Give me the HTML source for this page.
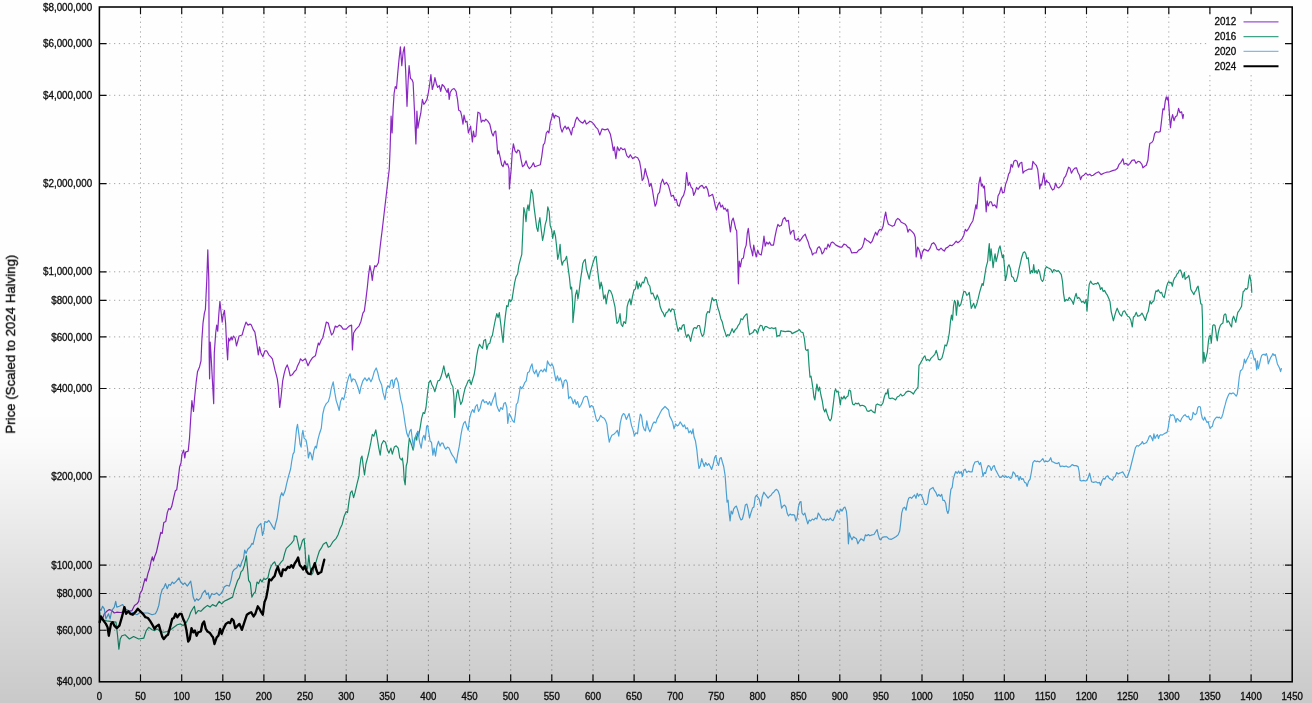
<!DOCTYPE html>
<html><head><meta charset="utf-8"><title>Price (Scaled to 2024 Halving)</title>
<style>html,body{margin:0;padding:0;background:#fff;}body{width:1312px;height:703px;overflow:hidden;position:relative;font-family:"Liberation Sans",Arial,sans-serif;}</style>
</head><body>
<svg width="1312" height="703" viewBox="0 0 1312 703" style="position:absolute;left:0;top:0">
<defs><linearGradient id="ov" x1="0" y1="0" x2="0" y2="1"><stop offset="0" stop-color="#000" stop-opacity="0"/><stop offset="0.585" stop-color="#000" stop-opacity="0"/><stop offset="0.62" stop-color="#000" stop-opacity="0.008"/><stop offset="0.68" stop-color="#000" stop-opacity="0.04"/><stop offset="0.85" stop-color="#000" stop-opacity="0.135"/><stop offset="1" stop-color="#000" stop-opacity="0.208"/></linearGradient><filter id="soft" x="-2%" y="-2%" width="104%" height="104%"><feGaussianBlur stdDeviation="0.38"/></filter></defs>
<rect x="0" y="0" width="1312" height="703" fill="#fefefe"/>
<g filter="url(#soft)">
<path d="M140.5 7.0 V681.8 M181.7 7.0 V681.8 M222.8 7.0 V681.8 M263.9 7.0 V681.8 M305.1 7.0 V681.8 M346.2 7.0 V681.8 M387.3 7.0 V681.8 M428.4 7.0 V681.8 M469.6 7.0 V681.8 M510.7 7.0 V681.8 M551.8 7.0 V681.8 M593.0 7.0 V681.8 M634.1 7.0 V681.8 M675.2 7.0 V681.8 M716.4 7.0 V681.8 M757.5 7.0 V681.8 M798.6 7.0 V681.8 M839.8 7.0 V681.8 M880.9 7.0 V681.8 M922.0 7.0 V681.8 M963.2 7.0 V681.8 M1004.3 7.0 V681.8 M1045.4 7.0 V681.8 M1086.5 7.0 V681.8 M1127.7 7.0 V681.8 M1168.8 7.0 V681.8 M1209.9 7.0 V681.8 M1251.1 7.0 V681.8 M99.4 43.6 H1292.2 M99.4 95.3 H1292.2 M99.4 183.6 H1292.2 M99.4 271.8 H1292.2 M99.4 300.3 H1292.2 M99.4 336.9 H1292.2 M99.4 388.5 H1292.2 M99.4 476.8 H1292.2 M99.4 565.1 H1292.2 M99.4 593.5 H1292.2 M99.4 630.2 H1292.2" stroke="#909090" stroke-width="1" stroke-dasharray="1.25 3.62" fill="none" opacity="0.8"/>
<rect x="1207.5" y="14" width="77" height="59" fill="#fefefe"/>
<g fill="none" stroke-linejoin="round" stroke-linecap="round">
<path d="M99.6 616.4 L100.9 619.7 L102.6 618.9 L104.3 613.8 L106.8 611.3 L109.3 609.6 L111.8 610.5 L114.3 613.0 L116.8 612.2 L120.2 612.5 L123.6 612.2 L127.8 611.3 L132.0 610.5 L134.5 605.4 L137.0 603.8 L138.7 601.3 L140.0 593.7 L142.0 590.3 L143.7 583.6 L145.0 578.6 L146.2 581.1 L147.9 573.6 L149.6 568.5 L151.3 560.1 L152.4 556.8 L153.4 561.0 L154.6 556.8 L156.3 552.6 L158.0 545.0 L159.1 540.0 L160.8 532.4 L162.2 533.4 L163.8 522.5 L165.8 521.5 L167.3 512.6 L168.7 508.6 L170.3 509.6 L171.7 506.6 L173.7 497.7 L175.3 490.8 L176.7 489.8 L178.2 478.9 L179.6 467.0 L181.0 463.0 L182.0 454.1 L183.6 450.1 L184.8 458.0 L185.6 452.1 L188.2 451.1 L189.5 438.2 L190.7 418.4 L191.9 400.6 L193.5 411.5 L194.5 398.6 L196.1 382.7 L197.5 371.8 L199.5 366.9 L201.0 360.9 L201.8 341.0 L203.0 323.1 L204.4 313.2 L205.4 309.3 L206.8 279.5 L207.8 249.8 L208.8 279.5 L209.2 356.8 L209.6 378.8 L210.2 342.0 L210.9 352.9 L213.7 403.6 L214.3 352.9 L215.7 333.0 L216.7 325.1 L217.7 331.1 L218.9 313.2 L219.9 301.3 L221.2 313.2 L222.2 322.1 L223.2 315.2 L224.4 310.3 L225.6 323.1 L226.6 344.9 L227.6 359.8 L228.6 338.0 L229.6 341.0 L231.2 337.0 L232.1 340.0 L233.5 336.0 L235.1 338.0 L236.5 345.9 L238.1 340.0 L239.1 336.0 L242.1 335.0 L244.0 328.1 L246.0 322.1 L248.0 325.1 L250.0 324.1 L251.4 325.1 L253.0 329.1 L254.9 332.1 L256.9 344.9 L258.3 354.8 L259.5 346.9 L260.9 352.9 L262.9 356.8 L264.8 350.9 L266.8 350.9 L268.8 354.8 L270.8 356.8 L272.4 358.8 L273.8 364.9 L275.2 370.9 L276.3 374.8 L277.3 378.8 L278.3 386.7 L279.7 407.5 L281.1 396.6 L282.7 380.8 L284.1 373.8 L285.7 367.9 L287.2 364.9 L288.6 368.9 L290.2 375.8 L292.2 374.8 L294.2 371.8 L296.2 369.9 L297.5 365.9 L299.5 361.9 L300.5 358.8 L302.5 360.8 L305.5 358.8 L308.0 365.7 L310.4 360.8 L312.4 357.8 L315.4 355.8 L317.4 346.9 L318.4 343.0 L319.3 344.9 L321.3 340.0 L322.7 338.0 L324.3 331.1 L326.3 322.1 L328.3 323.1 L329.8 329.1 L331.6 335.0 L333.2 333.0 L335.2 326.1 L337.2 327.1 L339.2 325.1 L341.1 326.1 L343.1 329.1 L346.1 329.1 L349.1 326.1 L351.6 325.1 L352.4 349.9 L353.6 333.0 L356.0 329.1 L359.0 326.1 L361.0 321.2 L362.9 313.2 L364.3 311.2 L365.9 299.4 L367.3 287.5 L368.5 275.6 L369.9 265.7 L371.3 272.6 L372.3 280.5 L373.4 271.6 L374.8 265.7 L376.2 266.7 L378.4 262.7 L379.8 249.8 L381.2 237.9 L382.2 230.0 L389.3 168.7 L390.1 148.9 L391.1 116.2 L392.1 133.0 L393.1 109.3 L394.1 93.4 L395.3 86.5 L396.5 88.5 L397.7 73.6 L399.0 59.7 L400.4 46.8 L401.8 65.7 L403.2 51.8 L404.4 46.8 L405.6 69.6 L407.0 106.3 L408.2 79.5 L409.1 65.7 L410.5 78.6 L411.9 79.5 L413.1 82.5 L414.5 111.2 L415.9 143.9 L416.9 111.2 L417.9 128.1 L419.5 119.2 L420.8 113.2 L422.4 99.4 L423.8 104.3 L425.4 102.3 L427.0 99.4 L428.4 92.4 L429.8 83.5 L430.9 74.6 L432.3 89.5 L433.7 84.5 L434.9 77.6 L436.3 83.5 L437.7 87.5 L439.3 85.5 L440.7 91.4 L442.2 84.5 L444.2 86.5 L445.6 89.5 L447.2 92.4 L448.2 88.5 L449.2 99.4 L450.2 92.4 L452.1 89.5 L454.1 88.5 L456.1 91.4 L457.5 99.4 L458.7 110.3 L460.5 111.2 L461.7 116.2 L463.0 124.1 L464.0 115.2 L465.6 122.1 L467.0 121.2 L468.4 133.0 L469.6 129.1 L470.6 126.1 L472.4 142.0 L473.4 131.1 L474.5 137.0 L475.9 136.0 L476.9 123.1 L477.9 112.2 L479.9 113.2 L481.3 122.1 L482.9 120.2 L484.5 121.2 L485.8 119.2 L487.8 121.2 L489.8 124.1 L491.8 133.0 L493.2 136.0 L494.4 132.1 L495.7 131.1 L496.7 141.0 L497.7 153.9 L498.7 150.9 L500.3 157.8 L501.7 164.8 L503.1 166.7 L504.7 160.8 L506.2 164.8 L507.6 163.8 L509.0 168.7 L509.4 189.0 L511.2 168.7 L512.2 152.9 L513.4 143.9 L515.0 150.9 L516.6 152.9 L517.9 149.9 L519.5 150.9 L520.9 158.8 L522.5 166.7 L524.5 164.8 L526.1 160.8 L527.5 165.7 L529.4 168.7 L531.4 166.7 L533.4 162.8 L534.8 166.7 L537.4 165.7 L540.3 164.8 L541.7 156.8 L543.3 144.9 L544.7 143.0 L546.3 133.0 L547.7 131.1 L548.9 133.0 L550.2 123.1 L551.6 118.2 L552.8 113.2 L554.2 118.2 L555.2 115.2 L557.2 116.2 L559.2 117.2 L560.5 127.1 L562.1 132.1 L563.7 128.1 L565.1 126.1 L566.7 129.1 L568.1 127.1 L569.7 130.1 L571.4 135.0 L572.6 128.1 L574.0 127.1 L575.6 120.2 L577.0 117.2 L579.0 120.2 L581.0 122.1 L582.9 123.1 L584.9 120.2 L586.3 124.1 L587.9 123.1 L589.9 121.2 L591.9 122.1 L593.8 124.1 L595.8 127.1 L597.8 129.1 L599.8 135.0 L602.0 128.9 L605.0 129.9 L607.9 128.9 L610.3 133.9 L611.9 141.8 L613.3 150.7 L614.3 146.8 L615.9 158.6 L617.4 146.8 L619.2 150.7 L620.8 147.7 L622.8 149.7 L624.8 148.7 L626.8 155.7 L628.7 157.7 L630.3 154.7 L632.7 158.6 L635.3 156.7 L637.7 157.7 L639.6 161.6 L641.0 169.5 L642.2 180.4 L643.6 178.5 L645.2 168.6 L646.6 174.5 L648.2 179.5 L649.5 186.4 L651.1 183.4 L652.5 190.4 L653.9 199.3 L655.1 206.2 L656.5 203.2 L657.9 194.3 L659.5 192.3 L661.0 183.4 L662.6 179.1 L664.4 184.4 L666.4 182.4 L668.4 185.4 L669.8 190.4 L671.3 196.3 L673.3 195.3 L674.9 200.3 L676.3 199.3 L677.7 205.2 L679.3 206.2 L680.9 200.3 L682.2 197.3 L683.6 195.3 L685.2 189.4 L686.6 172.5 L688.2 185.4 L689.6 182.4 L691.2 187.4 L692.5 188.4 L693.7 195.3 L695.1 192.3 L696.5 187.4 L698.1 189.4 L700.1 186.4 L702.1 185.4 L704.0 188.4 L706.0 186.4 L707.6 189.4 L709.0 196.3 L711.0 195.3 L712.6 194.3 L713.9 199.3 L715.3 206.2 L716.5 210.2 L717.9 205.2 L719.5 202.2 L720.9 207.2 L722.5 205.2 L723.9 209.2 L725.2 208.2 L726.8 211.2 L727.8 209.2 L729.2 223.0 L730.4 232.0 L731.8 221.1 L733.2 218.1 L734.4 223.0 L735.7 229.0 L736.7 231.0 L737.4 249.1 L738.4 283.8 L739.2 261.0 L740.4 266.9 L741.8 259.0 L743.4 258.0 L744.8 249.1 L746.2 245.1 L747.3 233.2 L748.3 228.3 L749.3 237.2 L750.3 246.1 L751.7 251.1 L752.7 256.0 L753.7 245.1 L755.1 252.1 L756.3 257.0 L757.7 250.1 L759.2 254.0 L761.2 255.0 L762.6 247.1 L764.0 236.2 L765.2 246.1 L766.6 242.1 L768.2 244.1 L769.5 242.1 L771.1 245.1 L773.5 245.1 L774.9 237.2 L776.5 229.3 L777.9 224.3 L779.5 226.3 L781.4 225.3 L783.0 219.4 L784.8 217.4 L786.4 221.3 L788.4 220.4 L789.4 228.3 L790.4 234.2 L791.9 231.2 L793.7 230.3 L794.9 239.2 L796.9 240.2 L798.3 238.2 L799.7 241.2 L801.2 239.2 L803.2 236.2 L805.2 234.2 L806.6 238.2 L808.2 242.1 L809.6 247.1 L811.2 250.1 L812.5 255.0 L814.1 253.0 L816.1 253.0 L817.5 248.1 L819.1 246.7 L820.7 249.1 L822.1 254.0 L823.6 252.1 L825.0 248.1 L826.6 249.1 L828.0 244.1 L829.6 247.1 L831.0 243.1 L832.4 242.1 L833.9 243.1 L835.9 245.1 L837.9 246.1 L839.9 247.1 L841.9 247.1 L843.9 244.1 L845.8 244.7 L847.8 247.1 L849.8 248.1 L851.8 253.0 L853.8 252.7 L856.7 252.7 L858.7 250.1 L860.7 249.1 L862.3 247.1 L863.7 243.1 L864.7 238.2 L866.6 240.2 L868.6 241.2 L870.6 243.1 L872.2 241.2 L873.6 237.2 L875.6 232.2 L877.1 235.2 L878.5 231.2 L879.9 229.3 L881.5 230.3 L883.1 226.3 L884.5 217.4 L885.7 212.0 L886.9 219.4 L888.4 224.3 L890.4 225.3 L892.4 226.3 L894.4 225.3 L896.0 220.4 L897.8 218.4 L899.3 219.4 L901.3 222.3 L903.3 223.3 L905.3 224.3 L906.7 226.3 L907.9 232.2 L909.3 229.3 L910.8 230.3 L912.6 232.2 L914.2 234.2 L915.2 237.2 L916.2 257.0 L917.6 247.1 L918.8 249.1 L920.2 253.0 L921.1 259.0 L922.5 252.1 L924.1 249.1 L926.1 250.1 L928.1 251.1 L930.1 248.1 L931.6 244.1 L933.6 242.7 L935.6 245.1 L937.0 249.1 L939.0 250.1 L941.0 248.1 L942.9 250.1 L944.3 251.1 L945.9 248.1 L947.9 247.1 L949.9 245.1 L951.9 245.7 L953.8 244.1 L956.2 241.2 L957.8 242.7 L959.8 241.2 L961.8 239.2 L963.8 235.2 L965.3 229.3 L966.7 231.2 L968.7 228.3 L970.7 224.3 L972.9 220.7 L974.3 213.8 L975.9 204.9 L976.8 208.9 L977.8 198.0 L978.8 184.1 L980.2 177.1 L981.4 186.1 L982.4 184.1 L983.4 188.0 L984.4 186.1 L985.4 199.9 L986.2 211.8 L987.1 200.9 L988.3 205.9 L989.7 201.9 L991.3 201.9 L992.7 205.9 L994.7 204.9 L996.7 207.9 L998.0 196.0 L999.6 193.0 L1001.2 187.1 L1002.6 193.0 L1004.2 192.0 L1005.6 184.1 L1007.2 180.1 L1008.6 174.2 L1009.9 172.2 L1011.1 164.3 L1012.5 167.2 L1013.9 161.3 L1015.5 160.3 L1017.1 161.3 L1018.5 167.2 L1020.0 163.3 L1021.8 162.3 L1023.0 173.2 L1024.4 171.2 L1026.4 170.2 L1028.4 169.2 L1030.4 169.2 L1031.9 169.2 L1032.9 161.3 L1034.3 163.3 L1036.3 165.3 L1037.7 169.2 L1038.7 178.1 L1039.7 189.0 L1040.7 184.1 L1041.6 185.1 L1042.8 179.1 L1043.8 173.2 L1045.2 185.1 L1046.4 180.1 L1047.6 182.1 L1049.2 183.1 L1050.8 187.1 L1052.5 190.0 L1054.1 189.0 L1055.7 183.1 L1057.1 187.1 L1058.7 188.0 L1060.7 186.1 L1062.7 183.1 L1064.0 178.1 L1065.6 176.2 L1067.0 172.2 L1068.6 167.2 L1070.0 168.2 L1071.4 173.2 L1073.0 170.2 L1074.9 168.2 L1076.5 167.8 L1077.9 172.2 L1079.5 175.2 L1080.5 179.7 L1081.9 176.2 L1083.9 175.2 L1085.8 173.2 L1087.8 175.2 L1089.8 174.2 L1091.4 175.8 L1093.2 175.2 L1095.7 173.2 L1098.7 171.8 L1101.1 174.6 L1103.7 173.2 L1106.6 172.2 L1109.6 171.8 L1112.6 170.6 L1115.6 169.8 L1117.5 168.2 L1119.1 164.3 L1120.9 162.3 L1122.9 158.7 L1124.1 164.3 L1126.1 163.3 L1128.0 165.3 L1130.0 163.3 L1132.0 160.3 L1134.4 159.9 L1136.0 163.3 L1138.0 161.3 L1139.9 161.9 L1141.9 164.3 L1142.9 167.8 L1144.7 166.2 L1146.3 165.3 L1147.9 160.3 L1148.9 150.4 L1149.8 143.5 L1151.8 142.5 L1153.2 140.5 L1154.6 133.6 L1156.2 131.6 L1158.2 132.2 L1160.2 131.6 L1161.1 124.6 L1162.1 115.7 L1162.9 108.8 L1164.1 109.8 L1165.3 100.9 L1166.3 96.9 L1167.3 99.9 L1168.1 96.9 L1168.9 106.8 L1169.7 118.7 L1170.5 127.6 L1171.4 119.7 L1172.6 114.7 L1174.0 120.7 L1175.4 116.7 L1177.0 115.7 L1178.6 108.4 L1180.0 112.7 L1181.6 111.8 L1182.9 118.7 L1183.5 114.7" stroke="#8a28c2" stroke-width="1.2"/>
<path d="M99.6 612.2 L100.4 618.9 L102.6 620.2 L106.8 620.9 L111.8 621.6 L116.0 622.2 L117.4 634.0 L118.9 649.1 L120.2 639.0 L121.9 635.7 L125.2 634.8 L129.4 639.0 L133.6 636.5 L138.7 639.0 L143.7 638.2 L146.2 630.6 L148.7 627.3 L152.1 629.8 L154.6 630.6 L157.1 628.9 L160.5 631.5 L163.8 632.3 L167.2 631.5 L170.5 629.8 L173.9 627.3 L177.3 624.7 L180.6 623.9 L183.1 625.6 L186.5 622.2 L189.0 617.2 L190.7 612.2 L193.2 608.0 L194.4 606.3 L195.7 613.8 L198.2 610.5 L200.8 611.3 L204.1 608.0 L207.5 605.4 L210.0 607.1 L212.5 604.6 L215.9 606.3 L219.2 601.3 L221.7 603.8 L224.2 601.3 L227.6 599.6 L232.6 597.1 L234.3 590.3 L236.0 585.3 L237.7 580.3 L239.4 577.8 L241.0 571.9 L242.7 570.2 L244.4 565.2 L246.4 555.9 L247.7 570.2 L248.6 580.3 L250.3 582.8 L251.9 597.1 L253.6 593.7 L255.3 592.0 L257.0 582.0 L258.6 583.6 L260.3 579.4 L262.0 582.0 L263.7 578.6 L265.4 579.4 L267.9 577.8 L269.6 570.2 L271.2 566.0 L272.9 563.5 L274.6 561.8 L276.3 566.0 L278.8 565.2 L281.3 561.8 L283.0 560.1 L284.7 553.4 L286.3 548.4 L288.9 545.9 L291.4 543.4 L293.9 540.0 L294.2 535.9 L296.6 536.3 L298.1 543.3 L299.5 550.2 L300.9 546.2 L302.5 540.3 L304.1 538.7 L305.1 550.2 L306.1 566.1 L307.5 569.0 L308.8 555.2 L310.0 566.1 L311.4 575.0 L312.8 573.0 L314.4 566.1 L316.0 562.1 L317.4 557.1 L319.3 551.2 L321.3 548.2 L323.3 544.3 L326.3 542.3 L328.3 547.2 L330.2 546.2 L333.2 541.3 L336.2 538.3 L338.2 534.4 L340.2 528.4 L342.1 524.5 L344.1 516.5 L346.1 511.6 L347.5 512.6 L349.1 500.7 L350.5 492.7 L352.0 490.8 L353.6 497.7 L355.0 492.7 L357.0 483.8 L359.0 475.9 L359.6 468.0 L361.0 458.0 L362.0 456.1 L363.5 468.0 L364.5 474.9 L365.9 464.0 L367.5 458.0 L368.9 452.1 L370.9 442.2 L372.3 434.3 L373.8 436.2 L375.8 429.9 L377.2 438.2 L378.8 448.1 L380.2 455.1 L381.6 444.2 L383.6 440.6 L385.5 442.2 L387.5 450.1 L388.9 453.1 L390.9 448.1 L392.3 454.1 L394.3 447.1 L396.2 445.8 L398.2 448.1 L399.8 458.0 L401.4 460.0 L402.4 458.0 L403.4 466.0 L404.2 479.8 L405.2 484.8 L406.2 466.0 L407.3 462.0 L408.3 448.1 L409.3 438.2 L410.7 442.2 L411.7 445.2 L413.1 450.1 L414.3 440.2 L415.7 436.2 L416.7 440.2 L417.7 431.3 L418.6 436.2 L420.2 427.3 L421.6 418.4 L423.2 412.5 L424.6 413.5 L426.0 407.5 L427.6 392.7 L428.9 382.7 L430.5 380.4 L431.9 384.7 L433.5 387.7 L434.9 391.7 L436.5 385.7 L437.9 380.8 L439.5 380.4 L441.0 376.8 L442.4 371.8 L443.8 365.9 L445.4 373.8 L446.8 377.8 L448.4 373.2 L449.8 378.8 L451.3 383.7 L452.9 386.7 L453.9 396.6 L454.7 417.4 L455.7 401.6 L456.9 392.7 L457.9 389.7 L459.3 397.6 L460.7 404.5 L462.2 401.6 L463.6 394.6 L465.2 387.7 L466.6 384.7 L468.2 380.8 L469.6 379.8 L471.2 384.7 L472.5 379.8 L474.1 374.8 L475.4 367.1 L476.5 357.2 L477.9 349.3 L479.5 344.3 L480.9 346.3 L482.5 348.3 L483.9 340.4 L485.5 339.4 L486.8 349.3 L488.2 344.3 L489.8 343.3 L491.2 337.4 L492.4 335.4 L493.8 327.5 L495.2 320.5 L496.8 313.6 L498.1 317.6 L499.3 312.6 L500.7 323.5 L502.1 335.4 L503.1 342.3 L504.1 327.5 L505.3 316.6 L506.7 305.7 L508.0 306.7 L509.2 299.7 L510.6 301.7 L512.0 299.7 L513.2 291.8 L514.6 282.9 L516.0 276.9 L517.6 274.0 L518.9 265.2 L520.4 259.3 L521.8 254.3 L522.8 231.5 L523.8 207.7 L525.0 212.7 L526.0 221.6 L527.0 209.7 L528.0 204.8 L529.0 210.7 L530.4 197.8 L531.3 189.5 L532.7 193.9 L533.9 205.8 L535.3 216.7 L536.7 227.6 L537.9 231.5 L538.9 222.6 L539.9 217.7 L541.2 229.5 L542.6 240.4 L543.8 234.5 L545.2 224.6 L546.6 219.6 L547.8 206.8 L549.2 211.7 L550.2 225.6 L551.6 229.5 L552.7 238.5 L554.1 230.5 L555.5 236.5 L556.7 247.4 L557.7 259.3 L559.1 253.3 L560.1 244.4 L561.1 259.3 L562.1 265.2 L563.4 261.2 L565.0 260.3 L566.6 256.3 L568.0 267.2 L569.4 277.1 L570.6 289.0 L571.6 287.0 L572.6 302.9 L572.9 322.5 L574.5 306.8 L575.5 294.9 L576.9 290.0 L577.9 298.9 L578.9 293.0 L580.3 281.1 L581.5 273.1 L582.9 263.2 L584.3 260.3 L585.2 259.3 L586.4 269.2 L587.8 274.1 L589.2 279.1 L590.4 272.1 L591.8 267.2 L593.2 262.2 L594.8 257.3 L596.1 256.3 L597.3 267.2 L598.7 279.1 L599.9 289.0 L601.1 282.1 L602.3 287.0 L603.7 298.9 L605.1 294.9 L606.2 303.9 L607.6 294.9 L609.0 290.0 L610.6 291.0 L612.2 294.9 L613.6 300.9 L615.0 306.8 L615.9 315.6 L617.0 323.5 L618.6 321.5 L620.0 313.6 L621.2 324.5 L622.6 326.5 L624.0 321.5 L625.6 323.5 L626.6 315.6 L627.1 306.8 L628.4 301.9 L629.8 298.9 L631.0 304.8 L632.4 296.9 L634.0 290.0 L635.4 289.0 L636.8 281.1 L638.0 289.0 L639.3 283.0 L640.7 287.0 L642.3 282.1 L643.7 283.0 L645.3 277.1 L646.7 278.1 L648.3 284.0 L649.8 286.0 L651.2 293.9 L652.8 293.0 L654.2 296.9 L655.8 299.9 L657.2 294.9 L658.8 298.9 L660.2 306.8 L661.7 310.8 L663.1 312.8 L664.7 316.7 L666.1 312.8 L667.7 311.8 L669.1 308.8 L670.7 311.8 L672.0 308.8 L674.0 309.8 L675.5 318.6 L676.7 324.5 L678.1 331.4 L679.7 327.5 L681.1 329.5 L682.4 325.5 L684.0 324.5 L685.4 333.4 L686.6 337.4 L688.0 334.4 L689.4 336.4 L690.6 341.3 L692.0 334.4 L693.5 328.5 L694.9 327.5 L696.5 328.5 L697.9 325.5 L699.5 325.5 L700.9 332.4 L702.3 336.4 L703.8 334.4 L705.2 325.5 L706.4 314.6 L707.8 311.6 L709.4 312.6 L710.8 304.7 L712.2 297.7 L713.8 300.7 L715.1 299.7 L716.2 299.5 L717.8 307.8 L719.2 311.8 L720.8 318.7 L722.2 321.7 L723.8 328.6 L725.2 332.6 L726.4 336.6 L727.7 334.6 L729.3 335.6 L730.7 332.6 L732.1 328.6 L733.7 332.6 L735.3 329.6 L736.7 328.6 L738.0 325.7 L739.6 323.7 L741.0 318.7 L742.6 319.7 L744.0 316.8 L745.6 314.8 L747.0 313.8 L748.2 326.7 L749.5 334.6 L751.1 333.6 L752.9 332.6 L754.5 329.6 L756.1 330.6 L757.5 333.6 L758.9 328.6 L760.4 325.3 L762.0 325.7 L763.4 330.6 L765.0 326.7 L766.8 326.7 L768.4 327.7 L770.0 328.6 L771.7 327.7 L773.7 328.6 L775.7 327.7 L776.9 336.6 L778.3 335.6 L779.7 336.0 L780.9 330.6 L782.8 331.2 L785.2 331.6 L788.2 331.2 L790.8 331.6 L792.1 333.6 L794.1 332.6 L796.1 331.6 L798.1 330.6 L799.5 329.6 L801.1 332.0 L803.0 332.6 L804.4 338.6 L805.6 349.5 L807.0 350.4 L808.0 349.5 L809.0 365.3 L810.0 377.2 L811.0 376.2 L812.0 382.1 L813.0 389.1 L813.9 397.0 L814.9 400.0 L815.9 391.1 L816.9 384.1 L818.3 391.1 L819.5 387.1 L820.9 395.0 L822.3 401.0 L823.5 408.9 L824.8 411.9 L825.8 408.9 L827.2 413.9 L828.8 418.8 L830.2 420.8 L831.4 418.8 L832.4 410.9 L833.4 403.0 L834.8 391.1 L835.7 389.1 L836.7 392.1 L838.1 391.1 L839.3 398.0 L840.3 404.9 L841.3 397.0 L842.7 399.0 L844.1 396.0 L845.3 399.0 L846.6 397.0 L848.0 396.0 L849.0 390.1 L850.6 391.1 L851.6 399.0 L852.6 403.9 L854.2 404.9 L855.6 403.0 L857.1 403.9 L858.5 403.0 L860.1 405.9 L862.1 405.3 L864.1 405.9 L865.5 406.9 L867.1 410.9 L869.0 411.3 L871.0 409.9 L873.0 411.9 L875.0 412.9 L876.0 404.9 L877.4 403.9 L879.3 404.9 L881.3 405.3 L882.9 403.0 L884.3 397.0 L885.7 393.0 L886.9 394.0 L887.9 389.1 L888.9 398.0 L890.2 398.6 L892.2 398.0 L894.2 399.0 L895.6 400.0 L897.2 397.0 L899.2 396.0 L900.7 394.0 L902.1 396.0 L904.1 395.0 L906.1 392.1 L908.1 391.1 L910.1 391.5 L912.0 392.7 L913.4 394.0 L915.0 391.1 L916.6 389.1 L918.0 387.1 L919.0 365.3 L920.4 363.3 L922.0 360.4 L923.5 357.4 L924.9 355.8 L926.3 360.4 L927.9 359.4 L929.5 360.9 L930.9 358.4 L932.9 356.4 L934.8 354.4 L936.2 350.4 L937.4 354.4 L938.4 359.4 L940.2 359.8 L942.0 357.8 L943.6 351.9 L945.0 344.9 L946.5 345.9 L947.9 341.0 L949.3 333.0 L950.5 321.2 L951.5 315.2 L952.5 320.2 L953.5 306.3 L954.5 300.4 L955.5 302.3 L956.4 315.2 L957.8 300.4 L959.2 306.3 L960.8 304.3 L962.2 298.4 L963.8 291.4 L965.4 291.8 L966.8 295.4 L968.1 294.4 L969.3 292.4 L970.3 301.3 L971.3 308.3 L972.7 305.3 L973.7 303.3 L975.1 308.3 L976.7 304.3 L978.0 299.4 L979.6 292.4 L981.0 287.5 L982.2 283.5 L983.2 285.5 L984.6 276.6 L986.0 267.7 L987.6 261.7 L988.6 249.8 L989.3 243.5 L990.1 260.7 L991.1 248.8 L992.1 257.7 L993.1 267.7 L994.1 259.7 L995.1 253.8 L996.1 261.7 L997.5 255.8 L998.9 248.8 L1000.0 245.9 L1001.4 252.8 L1002.4 257.7 L1003.4 254.8 L1004.4 265.7 L1005.4 280.5 L1006.8 274.6 L1007.8 266.7 L1009.0 264.7 L1010.4 268.6 L1011.7 276.6 L1013.3 277.6 L1014.7 281.5 L1016.3 281.1 L1017.7 276.6 L1018.9 269.6 L1020.3 263.7 L1021.6 257.7 L1023.2 252.8 L1024.6 251.8 L1025.8 253.8 L1026.8 258.7 L1028.2 257.7 L1029.2 265.7 L1030.2 273.6 L1031.6 270.6 L1032.7 272.6 L1033.7 264.7 L1034.7 272.6 L1036.1 270.6 L1037.1 273.6 L1038.5 269.6 L1039.7 272.6 L1041.1 279.5 L1042.5 281.5 L1043.6 279.5 L1045.0 269.6 L1046.4 266.7 L1048.0 267.7 L1049.6 268.6 L1051.0 269.6 L1052.4 272.6 L1053.9 269.6 L1055.5 270.6 L1056.9 271.6 L1058.3 270.6 L1059.9 272.6 L1061.3 274.6 L1062.5 281.5 L1063.5 293.4 L1064.8 301.3 L1066.2 299.4 L1067.8 300.4 L1069.2 297.4 L1070.8 299.4 L1072.2 301.3 L1073.4 304.3 L1074.8 297.4 L1076.1 293.4 L1077.3 298.4 L1078.7 297.4 L1080.3 299.4 L1081.7 302.3 L1083.1 301.3 L1084.7 303.3 L1086.1 299.4 L1087.0 311.2 L1088.2 295.4 L1089.2 284.5 L1090.6 281.1 L1092.0 283.5 L1093.6 284.5 L1095.2 283.5 L1096.6 283.9 L1097.9 282.5 L1099.5 285.5 L1100.5 289.5 L1101.9 287.5 L1103.1 291.4 L1104.5 290.4 L1106.1 293.4 L1107.5 295.4 L1108.8 298.4 L1110.0 301.6 L1111.2 311.6 L1112.3 316.2 L1113.4 320.8 L1114.6 316.2 L1115.9 311.6 L1117.2 308.2 L1118.5 311.6 L1120.0 314.7 L1121.5 316.2 L1123.1 311.6 L1124.6 310.8 L1126.2 313.9 L1127.7 316.2 L1129.2 317.0 L1130.8 320.1 L1132.3 327.0 L1133.4 317.0 L1134.6 316.2 L1136.2 312.4 L1137.7 316.2 L1139.3 315.9 L1140.8 314.7 L1142.0 313.1 L1143.6 316.2 L1145.4 320.5 L1147.0 313.9 L1148.2 311.6 L1149.3 305.4 L1150.0 300.8 L1151.3 303.9 L1152.3 302.3 L1153.9 300.8 L1155.0 294.6 L1155.9 290.8 L1157.0 291.6 L1158.2 289.7 L1159.3 291.6 L1160.5 293.1 L1161.6 292.3 L1162.8 296.2 L1164.2 297.7 L1165.4 292.3 L1166.7 286.2 L1167.7 283.1 L1168.8 281.6 L1170.0 283.1 L1171.1 282.3 L1172.4 286.2 L1173.4 280.8 L1174.7 277.7 L1175.7 276.9 L1177.0 273.9 L1178.1 273.1 L1179.3 270.3 L1180.5 270.0 L1181.6 273.1 L1182.7 277.7 L1183.6 275.4 L1184.4 272.3 L1185.1 279.3 L1186.5 277.7 L1187.8 276.9 L1188.8 275.4 L1189.8 280.8 L1190.8 289.3 L1192.1 291.6 L1193.1 293.1 L1193.9 294.6 L1195.0 291.6 L1195.9 290.8 L1197.0 287.7 L1198.1 286.2 L1199.0 291.6 L1200.1 299.3 L1200.8 303.9 L1201.9 304.2 L1202.5 319.3 L1203.0 363.1 L1203.9 352.3 L1205.1 361.6 L1206.2 356.9 L1207.3 352.3 L1208.5 340.8 L1209.3 336.2 L1210.4 335.4 L1211.3 343.1 L1212.1 333.9 L1212.8 325.4 L1213.9 324.7 L1215.0 325.4 L1215.9 331.6 L1216.7 337.8 L1217.3 340.8 L1218.2 333.1 L1219.3 328.5 L1220.4 325.4 L1221.6 323.9 L1222.9 323.1 L1223.9 315.4 L1225.2 313.9 L1225.9 314.7 L1227.0 322.4 L1228.1 320.8 L1229.3 322.4 L1230.6 325.4 L1231.6 327.0 L1232.4 319.3 L1233.6 316.2 L1234.7 319.3 L1235.8 322.4 L1236.7 317.7 L1237.8 312.4 L1239.0 310.8 L1240.4 308.5 L1241.6 306.2 L1242.4 297.7 L1243.2 291.6 L1244.4 290.8 L1245.5 288.5 L1246.7 289.3 L1247.8 287.7 L1248.6 280.8 L1249.6 274.9 L1250.6 279.3 L1251.3 284.6 L1251.8 292.3" stroke="#15906d" stroke-width="1.18"/>
<path d="M99.6 608.8 L100.9 610.5 L102.6 606.3 L104.3 608.8 L105.9 618.9 L108.5 613.8 L110.1 618.9 L111.8 610.5 L114.3 607.1 L115.7 601.3 L116.8 607.1 L119.4 606.3 L122.7 604.6 L125.2 608.8 L128.6 610.5 L132.0 612.2 L134.5 613.8 L137.0 614.7 L140.3 612.2 L143.7 613.0 L147.9 613.0 L152.1 614.7 L155.4 613.8 L157.1 610.5 L158.8 605.4 L160.5 595.4 L162.2 589.5 L163.8 587.8 L165.5 583.6 L167.2 588.7 L168.9 584.5 L170.5 585.3 L172.2 582.0 L173.9 583.6 L176.4 581.1 L178.9 577.8 L180.6 582.0 L183.1 584.5 L184.8 582.8 L187.3 586.1 L189.0 583.6 L190.7 581.1 L192.0 588.7 L193.2 597.1 L194.9 601.3 L196.6 598.7 L198.2 600.4 L200.8 597.9 L202.4 593.7 L205.0 590.3 L206.6 594.5 L208.3 592.9 L209.5 598.7 L211.7 593.7 L214.2 594.5 L216.7 592.9 L219.2 595.4 L220.9 593.7 L222.6 591.2 L224.2 587.0 L226.8 585.3 L229.3 586.1 L231.0 580.3 L232.6 571.9 L234.3 569.4 L236.8 567.7 L238.5 564.3 L240.2 566.8 L241.9 561.8 L243.5 558.5 L244.7 550.1 L246.1 553.4 L247.7 549.2 L250.3 546.7 L251.9 543.4 L253.0 544.3 L254.9 536.3 L256.9 528.4 L258.9 525.4 L260.9 523.5 L262.5 535.4 L263.9 530.4 L264.8 521.5 L266.8 522.5 L268.8 520.5 L270.8 523.5 L272.4 526.4 L274.4 529.4 L275.7 523.5 L277.1 518.5 L278.7 507.6 L280.3 496.7 L281.7 492.7 L283.1 495.7 L285.1 490.8 L286.6 483.8 L288.6 475.9 L290.6 469.0 L291.6 462.0 L293.0 454.1 L294.2 452.1 L295.6 438.2 L296.6 428.3 L297.5 424.4 L298.9 434.3 L300.1 444.2 L301.1 447.1 L302.1 434.3 L302.9 430.3 L304.1 438.2 L306.1 440.2 L307.5 448.1 L308.4 458.0 L309.8 452.1 L311.0 454.1 L312.4 460.0 L314.0 450.1 L315.4 446.2 L316.4 448.1 L317.8 440.2 L319.3 434.3 L321.3 428.3 L322.7 414.5 L324.3 407.5 L326.3 403.6 L328.3 401.6 L329.8 396.6 L331.2 388.7 L333.2 381.8 L334.8 392.7 L336.2 400.6 L337.8 405.5 L339.2 410.5 L340.5 401.6 L342.1 397.6 L343.7 399.6 L345.1 393.6 L347.1 382.7 L348.7 376.8 L350.1 373.8 L351.6 381.8 L353.0 378.8 L355.0 379.8 L357.0 384.7 L358.4 388.7 L359.6 393.6 L361.0 386.7 L362.9 380.8 L364.9 377.8 L366.9 380.8 L368.9 377.8 L370.9 381.8 L372.3 378.8 L374.2 371.8 L376.2 367.9 L377.8 372.8 L379.4 379.8 L381.6 384.7 L383.0 392.7 L385.0 399.6 L386.5 388.7 L387.9 385.7 L389.5 387.7 L390.9 380.8 L392.3 379.8 L393.5 387.7 L394.9 379.8 L396.4 377.8 L398.2 382.7 L399.4 391.7 L400.8 399.6 L402.2 404.5 L403.8 414.5 L405.4 425.4 L406.8 433.3 L408.3 437.2 L409.7 431.3 L411.1 429.3 L412.3 439.2 L413.7 448.1 L415.3 437.2 L416.7 433.3 L418.0 431.3 L419.6 442.2 L421.2 448.1 L422.6 438.2 L424.0 435.3 L425.2 440.2 L426.6 426.3 L427.6 425.4 L428.9 433.3 L430.1 441.2 L431.5 442.2 L432.9 455.1 L434.1 448.1 L435.5 456.1 L436.9 446.2 L438.5 441.2 L440.0 446.2 L441.4 443.2 L443.0 443.2 L444.4 447.1 L445.8 449.1 L447.4 447.1 L449.0 448.1 L450.7 452.1 L452.3 455.1 L454.3 458.0 L456.3 463.0 L457.7 454.1 L459.3 446.2 L460.9 435.3 L462.2 428.3 L463.6 423.4 L465.2 421.4 L466.6 426.3 L468.2 430.3 L469.6 418.4 L471.2 412.5 L472.7 409.5 L474.1 412.5 L475.5 406.5 L477.1 404.5 L478.5 411.5 L480.1 408.5 L481.7 401.6 L483.0 399.6 L484.6 402.6 L486.4 401.6 L488.0 404.5 L489.6 401.6 L491.0 405.5 L492.6 400.6 L494.3 396.6 L495.3 392.7 L496.5 404.5 L497.9 408.5 L499.3 411.5 L500.9 407.5 L502.5 409.5 L503.9 403.6 L505.4 402.6 L506.8 407.5 L507.8 423.4 L509.2 413.5 L510.8 416.4 L512.4 420.4 L514.2 422.4 L515.4 414.5 L516.3 404.5 L517.7 402.6 L519.1 394.6 L520.3 386.7 L521.7 388.7 L523.1 386.7 L524.7 382.7 L526.2 380.8 L527.6 372.8 L529.2 371.8 L530.6 366.9 L532.0 363.9 L533.2 370.9 L534.6 373.8 L536.2 369.9 L537.9 376.8 L539.5 371.8 L541.1 369.9 L542.9 371.8 L544.5 368.9 L546.1 371.8 L547.5 360.9 L548.8 363.9 L550.4 365.9 L552.0 363.9 L553.4 366.9 L554.8 374.8 L556.0 380.8 L557.4 375.8 L558.9 380.8 L560.3 377.8 L561.7 381.8 L562.9 387.7 L564.3 380.8 L565.9 379.8 L567.3 382.7 L568.7 398.6 L570.2 396.6 L571.8 398.6 L573.2 403.6 L574.8 399.6 L576.2 404.5 L577.6 401.6 L579.2 407.5 L580.7 405.5 L582.1 402.6 L583.7 397.6 L585.5 396.2 L587.1 396.6 L588.5 401.6 L589.7 407.5 L591.4 405.5 L593.0 406.5 L594.4 411.5 L596.0 418.4 L597.4 421.4 L599.0 419.4 L600.6 415.4 L602.3 417.4 L603.9 418.0 L605.5 420.4 L606.9 424.4 L607.9 433.3 L609.3 442.2 L610.5 438.2 L611.9 435.3 L613.8 434.3 L615.8 432.3 L617.4 430.3 L618.8 436.2 L620.2 423.4 L621.8 416.4 L623.4 413.5 L624.7 414.5 L626.3 419.4 L627.7 416.4 L629.1 413.5 L631.6 425.9 L633.0 429.8 L634.4 435.8 L635.9 432.8 L637.5 433.8 L638.9 422.9 L640.3 414.0 L641.5 415.9 L642.9 425.9 L644.3 429.8 L645.5 430.8 L646.8 420.9 L648.2 427.8 L649.8 431.8 L651.2 428.8 L652.8 423.9 L654.2 421.9 L655.8 422.9 L657.1 418.9 L658.7 415.9 L660.1 413.0 L661.7 410.0 L665.0 406.5 L668.6 410.0 L669.6 415.9 L671.2 418.9 L672.6 421.9 L674.0 428.8 L675.6 423.9 L677.2 425.9 L678.6 424.9 L680.1 421.9 L681.5 423.9 L683.1 426.8 L684.5 424.9 L685.9 428.8 L687.5 427.8 L688.9 432.8 L690.4 430.8 L691.8 433.8 L693.0 428.8 L694.0 436.8 L695.4 440.7 L696.8 449.6 L697.8 459.5 L699.0 468.5 L700.4 465.5 L701.7 458.6 L702.9 462.5 L704.3 466.5 L705.7 462.5 L707.3 465.5 L708.7 463.5 L710.3 466.5 L711.6 469.5 L713.2 464.5 L714.6 457.6 L715.8 455.6 L717.2 462.5 L718.6 465.5 L719.8 458.6 L721.2 457.6 L722.5 462.5 L723.7 466.5 L725.1 475.4 L726.1 489.3 L727.1 502.1 L728.1 500.2 L729.1 513.0 L730.1 521.0 L731.1 511.1 L732.5 514.0 L733.6 509.1 L735.0 507.1 L736.4 506.1 L738.0 511.1 L739.6 517.0 L741.0 520.0 L742.4 519.0 L743.9 513.0 L745.3 505.1 L746.9 504.1 L748.3 510.1 L749.5 518.0 L750.9 513.0 L752.5 508.1 L753.9 507.1 L755.2 497.2 L756.4 495.2 L757.8 497.2 L759.2 499.2 L760.8 506.1 L762.2 497.2 L763.8 492.2 L765.2 494.2 L766.7 496.2 L768.1 498.2 L769.7 496.2 L771.1 495.2 L772.3 493.2 L773.7 492.2 L775.1 490.3 L776.6 489.3 L778.2 491.2 L779.6 495.2 L780.6 502.1 L781.6 508.1 L783.0 506.1 L784.6 505.1 L786.0 507.1 L787.1 513.0 L788.5 516.0 L790.1 514.0 L791.5 515.0 L792.9 514.6 L794.5 515.0 L795.9 521.0 L797.1 518.0 L798.4 507.1 L799.8 502.1 L801.0 501.6 L802.0 513.0 L803.4 515.0 L804.8 513.0 L806.4 519.0 L807.8 523.9 L809.3 520.0 L810.7 521.0 L812.3 519.0 L813.9 520.0 L815.3 518.0 L816.9 519.0 L818.3 513.0 L819.6 515.0 L821.2 518.0 L822.8 520.0 L824.2 519.0 L825.8 520.6 L827.2 519.0 L828.8 520.0 L830.2 518.0 L831.7 520.0 L833.1 520.6 L834.7 517.0 L836.1 512.1 L837.5 510.1 L839.1 513.0 L840.7 509.1 L842.0 511.1 L843.6 508.1 L845.0 507.1 L846.4 511.1 L847.4 521.0 L848.4 543.8 L849.4 532.9 L850.6 536.8 L852.0 539.8 L853.5 536.8 L854.9 537.8 L856.5 538.8 L857.9 543.8 L859.5 540.8 L860.9 538.8 L862.5 539.8 L863.8 540.8 L865.4 534.8 L866.8 535.8 L868.4 534.5 L869.8 535.8 L872.0 534.9 L874.0 534.5 L875.5 532.0 L877.1 529.6 L878.3 534.9 L879.5 538.9 L880.9 539.9 L882.3 537.3 L884.3 536.9 L886.8 536.9 L888.8 538.9 L891.4 539.3 L893.8 537.9 L896.2 536.5 L898.1 534.9 L899.7 531.0 L900.7 523.0 L901.7 513.1 L903.1 508.2 L904.7 507.2 L906.1 510.2 L907.3 503.2 L908.6 498.3 L910.2 497.3 L911.6 498.3 L913.2 496.3 L914.6 494.9 L916.0 498.3 L917.2 493.3 L918.6 496.3 L919.9 494.3 L921.5 495.3 L923.1 499.3 L924.5 504.2 L926.1 504.8 L927.5 503.2 L928.5 495.3 L929.8 489.4 L931.4 488.4 L933.0 487.4 L934.4 490.4 L935.8 492.3 L937.4 496.3 L938.8 494.3 L940.4 496.3 L941.7 494.3 L942.9 500.3 L944.3 500.3 L945.7 503.2 L946.7 510.2 L947.9 513.5 L948.9 510.2 L949.9 497.3 L950.9 489.4 L952.2 487.4 L953.2 479.5 L954.6 474.5 L955.8 471.5 L957.2 473.5 L958.6 471.1 L959.8 473.5 L961.2 471.5 L962.5 476.5 L963.7 470.5 L965.1 469.1 L966.7 472.5 L968.5 471.1 L970.1 471.9 L972.1 471.9 L973.4 465.6 L975.0 462.0 L976.6 461.6 L978.0 461.2 L979.4 464.6 L980.6 462.6 L982.0 469.5 L983.0 476.5 L984.3 472.5 L985.5 473.5 L986.9 468.6 L988.3 465.6 L989.9 466.6 L991.3 470.5 L992.9 466.6 L994.3 465.6 L995.4 469.5 L996.8 471.9 L998.4 475.1 L999.8 477.5 L1001.4 477.1 L1002.8 475.5 L1004.4 477.5 L1005.7 475.9 L1007.1 477.5 L1008.7 476.5 L1010.3 478.5 L1011.7 477.5 L1013.1 471.9 L1014.7 473.5 L1016.1 476.5 L1017.6 475.5 L1019.0 480.4 L1020.2 476.5 L1021.6 479.5 L1023.0 478.5 L1024.6 482.4 L1026.0 483.0 L1027.1 486.4 L1028.5 481.4 L1030.1 479.1 L1031.5 471.5 L1032.9 462.6 L1034.5 460.6 L1036.1 461.6 L1037.9 461.2 L1039.4 462.0 L1041.0 460.6 L1042.8 458.6 L1044.4 462.0 L1046.0 461.2 L1047.8 461.6 L1049.3 460.6 L1050.7 457.7 L1051.9 461.6 L1053.3 462.0 L1055.3 463.2 L1057.3 463.6 L1058.9 462.6 L1060.2 466.6 L1062.2 466.0 L1064.2 466.6 L1066.2 466.0 L1068.2 467.2 L1070.2 466.6 L1072.1 464.6 L1074.1 465.6 L1076.1 465.6 L1078.1 466.6 L1079.1 471.5 L1080.1 480.4 L1081.6 481.0 L1083.6 480.4 L1085.6 481.0 L1087.0 480.4 L1088.6 476.5 L1089.6 473.1 L1090.6 477.5 L1091.6 481.8 L1093.5 482.4 L1095.9 481.8 L1097.9 483.0 L1099.5 482.4 L1100.5 485.4 L1101.9 481.0 L1103.4 478.5 L1104.8 479.1 L1106.2 476.5 L1107.8 475.9 L1109.4 478.5 L1110.8 479.1 L1112.4 480.4 L1113.8 477.5 L1115.3 476.5 L1116.7 472.5 L1118.1 473.9 L1119.7 473.1 L1121.3 472.5 L1122.7 471.9 L1124.3 474.5 L1125.6 477.1 L1127.2 477.5 L1128.6 473.5 L1130.0 469.5 L1135.4 447.8 L1136.9 445.5 L1138.5 446.2 L1140.0 444.7 L1141.6 443.2 L1142.3 441.6 L1143.6 443.9 L1145.1 443.2 L1146.6 442.4 L1148.2 439.3 L1149.3 436.2 L1150.3 435.5 L1151.6 437.8 L1152.8 440.8 L1153.9 433.9 L1155.0 438.5 L1156.2 436.2 L1157.4 434.7 L1158.5 438.5 L1159.6 435.5 L1160.8 434.7 L1162.3 435.1 L1163.9 433.9 L1165.4 433.1 L1167.0 432.4 L1168.2 427.8 L1169.3 420.1 L1170.4 414.7 L1171.6 415.4 L1172.8 414.7 L1173.9 415.4 L1175.0 418.5 L1175.9 422.4 L1177.0 418.5 L1178.1 419.3 L1179.3 420.8 L1180.4 421.6 L1181.6 418.5 L1182.7 417.0 L1183.9 415.4 L1185.1 414.7 L1186.2 416.2 L1187.4 417.0 L1188.5 416.2 L1189.6 419.3 L1190.8 420.1 L1192.1 418.5 L1193.1 412.4 L1194.2 413.9 L1195.4 414.7 L1196.7 413.1 L1197.8 407.7 L1199.0 406.5 L1200.4 407.0 L1201.3 413.9 L1202.4 418.5 L1203.6 420.1 L1204.7 417.0 L1205.8 420.1 L1207.0 422.4 L1208.2 421.6 L1209.3 426.2 L1210.1 428.5 L1211.2 427.0 L1212.4 426.2 L1213.5 421.6 L1214.7 419.3 L1215.9 417.8 L1217.0 417.0 L1218.2 417.8 L1219.3 417.0 L1220.5 418.5 L1221.6 417.8 L1222.9 413.9 L1223.9 409.3 L1225.2 404.7 L1226.2 400.8 L1227.3 397.7 L1228.6 394.7 L1229.8 393.1 L1231.2 393.9 L1232.4 393.1 L1233.6 393.1 L1235.0 394.7 L1236.2 396.2 L1237.3 393.9 L1238.3 386.2 L1239.3 377.0 L1240.4 370.8 L1241.6 370.0 L1242.7 368.5 L1243.6 364.6 L1244.4 359.2 L1245.5 363.1 L1246.6 360.0 L1247.8 357.7 L1249.0 355.4 L1250.1 352.3 L1251.2 350.0 L1252.1 350.8 L1253.2 355.4 L1254.3 360.0 L1255.2 358.5 L1256.0 363.9 L1256.7 370.0 L1257.5 360.8 L1258.3 368.5 L1259.3 365.4 L1260.6 359.2 L1261.7 355.4 L1262.9 354.6 L1264.0 354.2 L1265.2 355.4 L1266.3 353.5 L1267.4 356.9 L1268.3 363.9 L1269.4 360.8 L1270.6 357.7 L1271.7 356.2 L1272.9 353.5 L1274.0 355.4 L1275.2 354.6 L1276.3 359.2 L1277.4 363.9 L1278.6 366.2 L1279.7 368.5 L1280.6 371.6 L1281.4 368.5" stroke="#4da7dc" stroke-width="1.18"/>
<path d="M99.7 622.2 L100.9 616.4 L103.4 620.5 L105.9 623.9 L107.6 627.3 L108.8 635.7 L111.0 623.9 L112.7 622.2 L114.3 625.6 L116.8 628.1 L119.4 625.6 L121.9 617.2 L124.4 607.1 L126.1 613.8 L128.3 611.3 L130.3 613.8 L132.8 614.7 L135.3 612.2 L137.8 608.8 L140.3 611.3 L142.9 613.8 L145.4 617.2 L147.9 618.0 L150.4 621.4 L152.9 625.6 L154.6 628.9 L156.3 626.4 L158.8 624.7 L160.5 630.6 L162.2 636.5 L163.8 639.0 L166.4 635.7 L168.0 634.8 L170.5 625.6 L172.2 618.9 L173.9 618.0 L175.6 613.8 L177.3 617.2 L179.8 613.8 L181.5 613.8 L183.1 618.9 L184.8 622.2 L186.5 630.6 L188.2 641.5 L189.8 639.0 L191.5 628.1 L193.2 632.3 L194.9 630.6 L196.6 635.7 L198.2 632.3 L200.8 631.5 L202.4 623.9 L204.1 621.4 L205.8 628.9 L207.5 631.5 L210.0 633.1 L211.7 635.7 L213.0 637.3 L214.5 644.0 L216.7 637.3 L218.4 635.7 L220.1 628.9 L221.7 634.0 L223.4 628.9 L225.9 623.9 L228.4 622.2 L230.1 623.1 L231.8 618.9 L233.5 620.5 L235.2 628.1 L237.7 625.6 L239.4 623.9 L241.9 629.8 L244.4 622.2 L246.9 614.7 L249.4 613.0 L251.1 612.2 L253.6 616.4 L255.3 613.8 L257.8 606.3 L259.5 608.8 L261.2 612.2 L262.8 614.7 L264.5 602.1 L266.2 597.9 L267.9 588.7 L269.2 579.4 L271.2 580.3 L272.9 577.8 L274.6 576.1 L276.3 570.2 L277.9 566.8 L279.6 572.7 L281.3 576.1 L283.0 569.4 L285.5 570.2 L288.0 566.8 L289.7 567.7 L291.4 565.2 L293.1 567.7 L294.7 563.5 L296.4 561.0 L298.1 557.6 L299.8 565.2 L301.4 566.8 L303.1 569.4 L304.8 566.0 L306.5 571.0 L308.2 573.6 L310.4 574.0 L312.0 569.0 L313.4 567.1 L314.8 563.1 L316.4 570.0 L318.0 574.0 L319.3 573.0 L321.3 572.0 L322.7 566.1 L324.3 559.7" stroke="#000" stroke-width="2.35"/>
</g>
<path d="M140.5 681.8 v-7.2 M140.5 7.0 v7.2 M181.7 681.8 v-7.2 M181.7 7.0 v7.2 M222.8 681.8 v-7.2 M222.8 7.0 v7.2 M263.9 681.8 v-7.2 M263.9 7.0 v7.2 M305.1 681.8 v-7.2 M305.1 7.0 v7.2 M346.2 681.8 v-7.2 M346.2 7.0 v7.2 M387.3 681.8 v-7.2 M387.3 7.0 v7.2 M428.4 681.8 v-7.2 M428.4 7.0 v7.2 M469.6 681.8 v-7.2 M469.6 7.0 v7.2 M510.7 681.8 v-7.2 M510.7 7.0 v7.2 M551.8 681.8 v-7.2 M551.8 7.0 v7.2 M593.0 681.8 v-7.2 M593.0 7.0 v7.2 M634.1 681.8 v-7.2 M634.1 7.0 v7.2 M675.2 681.8 v-7.2 M675.2 7.0 v7.2 M716.4 681.8 v-7.2 M716.4 7.0 v7.2 M757.5 681.8 v-7.2 M757.5 7.0 v7.2 M798.6 681.8 v-7.2 M798.6 7.0 v7.2 M839.8 681.8 v-7.2 M839.8 7.0 v7.2 M880.9 681.8 v-7.2 M880.9 7.0 v7.2 M922.0 681.8 v-7.2 M922.0 7.0 v7.2 M963.2 681.8 v-7.2 M963.2 7.0 v7.2 M1004.3 681.8 v-7.2 M1004.3 7.0 v7.2 M1045.4 681.8 v-7.2 M1045.4 7.0 v7.2 M1086.5 681.8 v-7.2 M1086.5 7.0 v7.2 M1127.7 681.8 v-7.2 M1127.7 7.0 v7.2 M1168.8 681.8 v-7.2 M1168.8 7.0 v7.2 M1209.9 681.8 v-7.2 M1209.9 7.0 v7.2 M1251.1 681.8 v-7.2 M1251.1 7.0 v7.2 M99.4 43.6 h7.2 M1292.2 43.6 h-7.2 M99.4 95.3 h7.2 M1292.2 95.3 h-7.2 M99.4 183.6 h7.2 M1292.2 183.6 h-7.2 M99.4 271.8 h7.2 M1292.2 271.8 h-7.2 M99.4 300.3 h7.2 M1292.2 300.3 h-7.2 M99.4 336.9 h7.2 M1292.2 336.9 h-7.2 M99.4 388.5 h7.2 M1292.2 388.5 h-7.2 M99.4 476.8 h7.2 M1292.2 476.8 h-7.2 M99.4 565.1 h7.2 M1292.2 565.1 h-7.2 M99.4 593.5 h7.2 M1292.2 593.5 h-7.2 M99.4 630.2 h7.2 M1292.2 630.2 h-7.2" stroke="#0a0a0a" stroke-width="1.15" fill="none"/>
<rect x="99.4" y="7.0" width="1192.8" height="674.8" fill="none" stroke="#050505" stroke-width="1.55"/>
<g font-family="Liberation Sans, Arial, sans-serif" font-size="10" fill="#0c0c0c" stroke="#0c0c0c" stroke-width="0.3">
<text transform="translate(92.2 10.6) scale(0.985 1)" text-anchor="end">$8,000,000</text>
<text transform="translate(92.2 47.2) scale(0.985 1)" text-anchor="end">$6,000,000</text>
<text transform="translate(92.2 98.9) scale(0.985 1)" text-anchor="end">$4,000,000</text>
<text transform="translate(92.2 187.2) scale(0.985 1)" text-anchor="end">$2,000,000</text>
<text transform="translate(92.2 275.4) scale(0.985 1)" text-anchor="end">$1,000,000</text>
<text transform="translate(92.2 303.9) scale(0.985 1)" text-anchor="end">$800,000</text>
<text transform="translate(92.2 340.5) scale(0.985 1)" text-anchor="end">$600,000</text>
<text transform="translate(92.2 392.1) scale(0.985 1)" text-anchor="end">$400,000</text>
<text transform="translate(92.2 480.4) scale(0.985 1)" text-anchor="end">$200,000</text>
<text transform="translate(92.2 568.7) scale(0.985 1)" text-anchor="end">$100,000</text>
<text transform="translate(92.2 597.1) scale(0.985 1)" text-anchor="end">$80,000</text>
<text transform="translate(92.2 633.8) scale(0.985 1)" text-anchor="end">$60,000</text>
<text transform="translate(92.2 685.4) scale(0.985 1)" text-anchor="end">$40,000</text>
<text transform="translate(99.4 700.1) scale(0.965 1)" text-anchor="middle">0</text>
<text transform="translate(140.5 700.1) scale(0.965 1)" text-anchor="middle">50</text>
<text transform="translate(181.7 700.1) scale(0.965 1)" text-anchor="middle">100</text>
<text transform="translate(222.8 700.1) scale(0.965 1)" text-anchor="middle">150</text>
<text transform="translate(263.9 700.1) scale(0.965 1)" text-anchor="middle">200</text>
<text transform="translate(305.1 700.1) scale(0.965 1)" text-anchor="middle">250</text>
<text transform="translate(346.2 700.1) scale(0.965 1)" text-anchor="middle">300</text>
<text transform="translate(387.3 700.1) scale(0.965 1)" text-anchor="middle">350</text>
<text transform="translate(428.4 700.1) scale(0.965 1)" text-anchor="middle">400</text>
<text transform="translate(469.6 700.1) scale(0.965 1)" text-anchor="middle">450</text>
<text transform="translate(510.7 700.1) scale(0.965 1)" text-anchor="middle">500</text>
<text transform="translate(551.8 700.1) scale(0.965 1)" text-anchor="middle">550</text>
<text transform="translate(593.0 700.1) scale(0.965 1)" text-anchor="middle">600</text>
<text transform="translate(634.1 700.1) scale(0.965 1)" text-anchor="middle">650</text>
<text transform="translate(675.2 700.1) scale(0.965 1)" text-anchor="middle">700</text>
<text transform="translate(716.4 700.1) scale(0.965 1)" text-anchor="middle">750</text>
<text transform="translate(757.5 700.1) scale(0.965 1)" text-anchor="middle">800</text>
<text transform="translate(798.6 700.1) scale(0.965 1)" text-anchor="middle">850</text>
<text transform="translate(839.8 700.1) scale(0.965 1)" text-anchor="middle">900</text>
<text transform="translate(880.9 700.1) scale(0.965 1)" text-anchor="middle">950</text>
<text transform="translate(922.0 700.1) scale(0.965 1)" text-anchor="middle">1000</text>
<text transform="translate(963.2 700.1) scale(0.965 1)" text-anchor="middle">1050</text>
<text transform="translate(1004.3 700.1) scale(0.965 1)" text-anchor="middle">1100</text>
<text transform="translate(1045.4 700.1) scale(0.965 1)" text-anchor="middle">1150</text>
<text transform="translate(1086.5 700.1) scale(0.965 1)" text-anchor="middle">1200</text>
<text transform="translate(1127.7 700.1) scale(0.965 1)" text-anchor="middle">1250</text>
<text transform="translate(1168.8 700.1) scale(0.965 1)" text-anchor="middle">1300</text>
<text transform="translate(1209.9 700.1) scale(0.965 1)" text-anchor="middle">1350</text>
<text transform="translate(1251.1 700.1) scale(0.965 1)" text-anchor="middle">1400</text>
<text transform="translate(1292.2 700.1) scale(0.965 1)" text-anchor="middle">1450</text>
<text transform="translate(1236.3 25.2) scale(0.985 1)" text-anchor="end">2012</text>
<path d="M1243.5 21.9 H1278.5" stroke="#9a4fd6" stroke-width="1.35" fill="none"/>
<text transform="translate(1236.3 39.9) scale(0.985 1)" text-anchor="end">2016</text>
<path d="M1243.5 36.6 H1278.5" stroke="#3fa287" stroke-width="1.35" fill="none"/>
<text transform="translate(1236.3 54.7) scale(0.985 1)" text-anchor="end">2020</text>
<path d="M1243.5 51.4 H1278.5" stroke="#7fbde8" stroke-width="1.35" fill="none"/>
<text transform="translate(1236.3 69.5) scale(0.985 1)" text-anchor="end">2024</text>
<path d="M1243.5 66.2 H1278.5" stroke="#000" stroke-width="2.0" fill="none"/>
</g>
<text font-family="Liberation Sans, Arial, sans-serif" font-size="13.25" fill="#080808" stroke="#080808" stroke-width="0.3" text-anchor="middle" transform="translate(14.9 344.2) rotate(-90)">Price (Scaled to 2024 Halving)</text>
</g>
<rect x="0" y="0" width="1312" height="703" fill="url(#ov)"/>
</svg>
</body></html>
